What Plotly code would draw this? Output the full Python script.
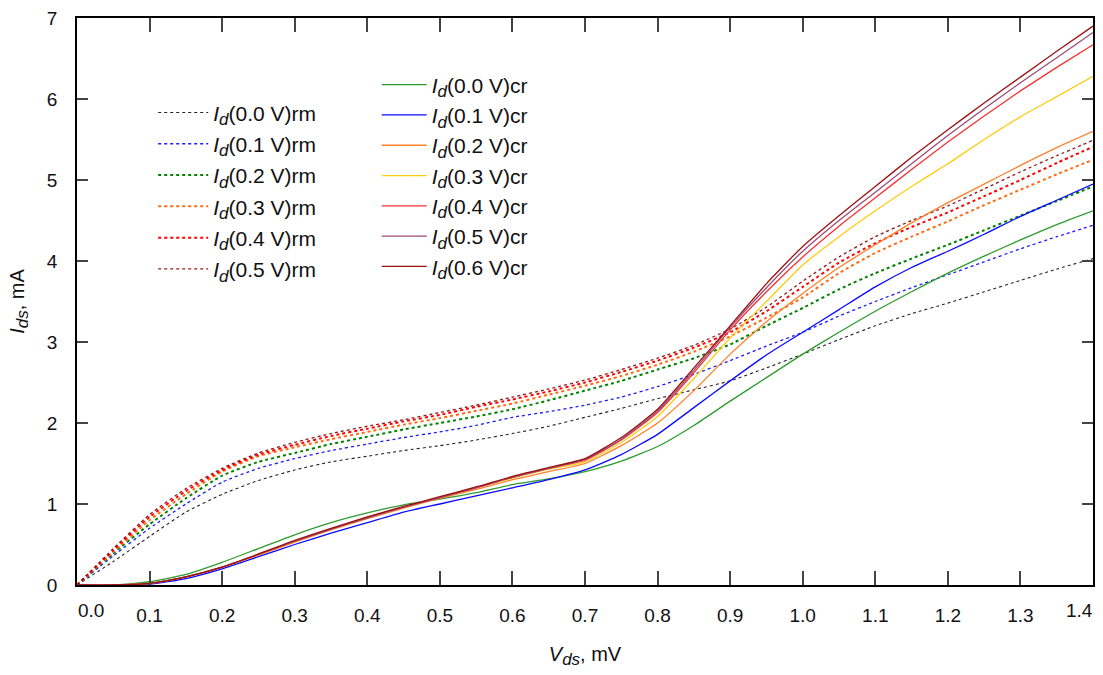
import plotly.graph_objects as go

vds = [0, 0.05, 0.1, 0.15, 0.2, 0.25, 0.3, 0.35, 0.4, 0.45, 0.5, 0.55, 0.6, 0.65, 0.7,
       0.75, 0.8, 0.85, 0.9, 0.95, 1.0, 1.05, 1.1, 1.15, 1.2, 1.25, 1.3, 1.35, 1.4]

# dotted "rm" curves
rm_labels = ["0.0", "0.1", "0.2", "0.3", "0.4", "0.5"]
rm00 = [0, 0.29, 0.6, 0.9, 1.12, 1.29, 1.42, 1.52, 1.59, 1.66, 1.72, 1.79, 1.87, 1.96, 2.07,
        2.18, 2.3, 2.41, 2.52, 2.68, 2.85, 3.03, 3.2, 3.35, 3.48, 3.62, 3.76, 3.9, 4.03]
rm01 = [0, 0.36, 0.7, 1.0, 1.27, 1.44, 1.56, 1.66, 1.74, 1.82, 1.89, 1.97, 2.07, 2.14, 2.22,
        2.32, 2.45, 2.6, 2.77, 2.95, 3.12, 3.32, 3.5, 3.67, 3.83, 3.99, 4.15, 4.3, 4.44]
rm02 = [0, 0.39, 0.75, 1.07, 1.35, 1.52, 1.63, 1.74, 1.83, 1.92, 2.0, 2.08, 2.17, 2.28, 2.4,
        2.52, 2.66, 2.8, 2.97, 3.2, 3.42, 3.65, 3.85, 4.03, 4.2, 4.38, 4.56, 4.74, 4.92]
rm03 = [0, 0.41, 0.8, 1.12, 1.4, 1.59, 1.7, 1.8, 1.89, 1.98, 2.06, 2.15, 2.24, 2.35, 2.46,
        2.58, 2.72, 2.88, 3.07, 3.3, 3.55, 3.85, 4.1, 4.3, 4.49, 4.69, 4.88, 5.07, 5.25]
rm04 = [0, 0.43, 0.84, 1.16, 1.42, 1.61, 1.73, 1.84, 1.93, 2.02, 2.1, 2.2, 2.29, 2.39, 2.5,
        2.63, 2.77, 2.93, 3.12, 3.38, 3.68, 3.98, 4.22, 4.42, 4.6, 4.8, 5.0, 5.21, 5.41]
rm05 = [0, 0.45, 0.87, 1.19, 1.44, 1.63, 1.76, 1.87, 1.96, 2.04, 2.13, 2.22, 2.32, 2.42, 2.53,
        2.66, 2.8, 2.96, 3.16, 3.43, 3.75, 4.05, 4.3, 4.5, 4.68, 4.89, 5.1, 5.3, 5.49]

# solid "cr" curves
cr_labels = ["0.0", "0.1", "0.2", "0.3", "0.4", "0.5", "0.6"]
cr00 = [0, 0.0, 0.04, 0.13, 0.28, 0.45, 0.62, 0.77, 0.89, 0.99, 1.06, 1.14, 1.24, 1.31, 1.4,
        1.53, 1.71, 1.97, 2.27, 2.56, 2.85, 3.12, 3.38, 3.62, 3.85, 4.06, 4.26, 4.45, 4.62]
cr01 = [0, 0.0, 0.01, 0.08, 0.2, 0.35, 0.5, 0.64, 0.77, 0.9, 1.0, 1.1, 1.2, 1.3, 1.42,
        1.61, 1.86, 2.19, 2.52, 2.84, 3.12, 3.4, 3.68, 3.92, 4.12, 4.33, 4.55, 4.75, 4.95]
cr02 = [0, 0.0, 0.02, 0.1, 0.22, 0.37, 0.53, 0.68, 0.82, 0.95, 1.07, 1.18, 1.3, 1.4, 1.5,
        1.72, 2.0, 2.4, 2.85, 3.25, 3.6, 3.92, 4.2, 4.47, 4.72, 4.95, 5.18, 5.4, 5.6]
cr03 = [0, 0.0, 0.02, 0.1, 0.22, 0.38, 0.54, 0.69, 0.83, 0.96, 1.08, 1.2, 1.32, 1.43, 1.52,
        1.76, 2.08, 2.55, 3.05, 3.5, 3.95, 4.3, 4.62, 4.92, 5.2, 5.5, 5.78, 6.03, 6.28]
cr04 = [0, 0.0, 0.02, 0.1, 0.22, 0.38, 0.54, 0.69, 0.83, 0.96, 1.08, 1.2, 1.33, 1.44, 1.54,
        1.79, 2.13, 2.62, 3.15, 3.62, 4.05, 4.43, 4.78, 5.13, 5.47, 5.79, 6.1, 6.39, 6.67]
cr05 = [0, 0.0, 0.02, 0.1, 0.22, 0.38, 0.54, 0.69, 0.83, 0.96, 1.08, 1.2, 1.33, 1.44, 1.55,
        1.8, 2.15, 2.65, 3.18, 3.67, 4.12, 4.5, 4.85, 5.2, 5.55, 5.88, 6.2, 6.51, 6.82]
cr06 = [0, 0.0, 0.02, 0.1, 0.22, 0.38, 0.55, 0.7, 0.84, 0.97, 1.09, 1.21, 1.34, 1.45, 1.56,
        1.82, 2.17, 2.68, 3.2, 3.72, 4.18, 4.56, 4.92, 5.28, 5.62, 5.95, 6.27, 6.59, 6.9]

x_ticks = [0.0, 0.1, 0.2, 0.3, 0.4, 0.5, 0.6, 0.7, 0.8, 0.9, 1.0, 1.1, 1.2, 1.3, 1.4]
y_ticks = [0, 1, 2, 3, 4, 5, 6, 7]

rm_series = [rm00, rm01, rm02, rm03, rm04, rm05]
rm_colors = ["#222222", "#1a1aff", "#008000", "#ff6a10", "#ff0000", "#8b1a1a"]
rm_widths = [1.1, 1.3, 2.0, 2.0, 2.0, 1.3]

cr_series = [cr00, cr01, cr02, cr03, cr04, cr05, cr06]
cr_colors = ["#2e9b2e", "#0a0aff", "#ff7f2a", "#ffcc11", "#f53232", "#9e4b76", "#991111"]

FONT = "Liberation Sans, Arial, Helvetica, sans-serif"
SUB = '<sub><span style="font-size:17px"><i>{}</i></span></sub>'
ID = "<i>I</i>" + SUB.format("d")

fig = go.Figure()
for lab, ys, c, w in zip(rm_labels, rm_series, rm_colors, rm_widths):
    fig.add_trace(go.Scatter(
        x=vds, y=ys, mode="lines", name=f"{ID}({lab} V)rm",
        line=dict(color=c, width=w, dash="dot", shape="spline", smoothing=0.5),
        legend="legend", legendgroup="rm" + lab))
for lab, ys, c in zip(cr_labels, cr_series, cr_colors):
    fig.add_trace(go.Scatter(
        x=vds, y=ys, mode="lines", name=f"{ID}({lab} V)cr",
        line=dict(color=c, width=1.3, shape="spline", smoothing=0.5),
        legend="legend2", legendgroup="cr" + lab))

x_text = ["" if v in (0.0, 1.4) else f"{v:.1f}" for v in x_ticks]

fig.update_layout(
    width=1103, height=675,
    margin=dict(l=77, r=8, t=9, b=90),
    paper_bgcolor="white", plot_bgcolor="white",
    font=dict(family=FONT, size=19, color="#111111"),
    xaxis=dict(range=[0, 1.4], tickvals=x_ticks, ticktext=x_text,
               ticks="inside", ticklen=14, tickwidth=1.5, tickcolor="#444444",
               showline=True, linecolor="black", linewidth=1.8, mirror="ticks",
               showgrid=False, zeroline=False, ticklabelstandoff=12,
               ticklabeloverflow="allow",
               title=dict(text="<i>V</i>" + SUB.format("ds") + ", mV", standoff=22,
                          font=dict(size=20))),
    yaxis=dict(range=[0, 7], tickvals=y_ticks, ticktext=[str(v) for v in y_ticks],
               ticks="inside", ticklen=11, tickwidth=1.5, tickcolor="#444444",
               showline=True, linecolor="black", linewidth=1.8, mirror="ticks",
               showgrid=False, zeroline=False, ticklabelstandoff=14,
               ticklabeloverflow="allow",
               title=dict(text="<i>I</i>" + SUB.format("ds") + ", mA", standoff=17,
                          font=dict(size=20))),
    legend=dict(x=0.075, y=0.869, xanchor="left", yanchor="top",
                bgcolor="rgba(0,0,0,0)", borderwidth=0, itemwidth=50,
                tracegroupgap=1, font=dict(size=21)),
    legend2=dict(x=0.295, y=0.918, xanchor="left", yanchor="top",
                 bgcolor="rgba(0,0,0,0)", borderwidth=0, itemwidth=45,
                 tracegroupgap=0, font=dict(size=21)),
    showlegend=True,
)

fig.add_annotation(x=0.0, y=0, xref="x", yref="paper", text="0.0", showarrow=False,
                   xanchor="center", yanchor="top", xshift=14, yshift=-13,
                   font=dict(family=FONT, size=19, color="#111111"))
fig.add_annotation(x=1.4, y=0, xref="x", yref="paper", text="1.4", showarrow=False,
                   xanchor="center", yanchor="top", xshift=-14, yshift=-13,
                   font=dict(family=FONT, size=19, color="#111111"))

fig.write_html("out.html")
